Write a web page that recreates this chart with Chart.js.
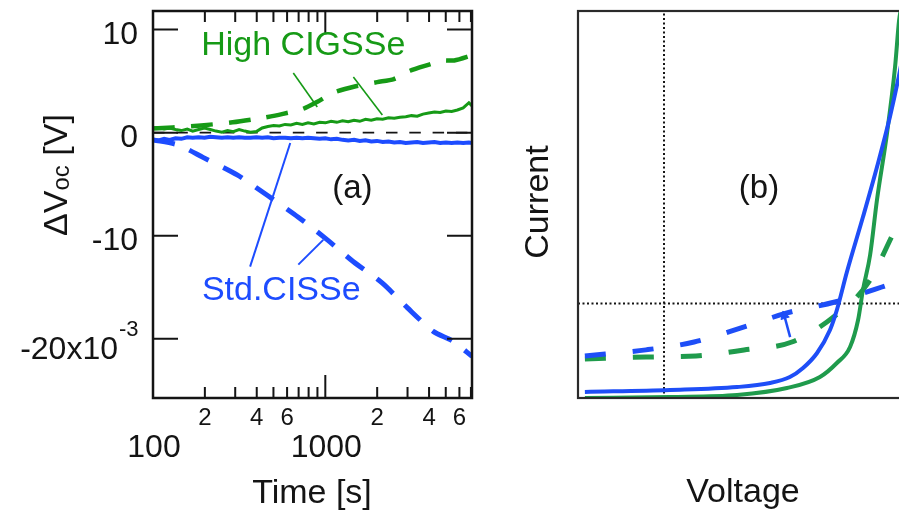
<!DOCTYPE html>
<html>
<head>
<meta charset="utf-8">
<script src="https://cdn.jsdelivr.net/npm/chart.js@4.4.1/dist/chart.umd.min.js"></script>
<style>
  html, body { margin: 0; padding: 0; background: #fff; }
  body { width: 899px; height: 511px; overflow: hidden; position: relative; }
  #wrapA { position: absolute; left: 0; top: 0; width: 500px; height: 511px; }
  #wrapB { position: absolute; left: 500px; top: 0; width: 440px; height: 511px; }
</style>
</head>
<body>
<div id="wrapA"><canvas id="chartA" width="500" height="511"></canvas></div>
<div id="wrapB"><canvas id="chartB" width="440" height="511"></canvas></div>
<script>
// ---- panel (a): delta Voc vs time (values in 1e-3 V) ----
const timeMin = 100, timeMax = 7100;
const voltMin = -25.74, voltMax = 11.8;

const timeHighDash = [100, 130, 190, 290, 420, 560, 740, 900, 1120, 1500, 2000, 2500, 3100, 4000, 4800, 5600, 7100];
const highDash = [0.4, 0.5, 0.7, 1.0, 1.4, 1.8, 2.3, 3.0, 3.9, 4.5, 4.9, 5.2, 6.0, 6.6, 7.0, 7.0, 7.5];

const timeStdDash = [100, 140, 195, 308, 467, 697, 1028, 1450, 2144, 3000, 4250, 5470, 7100];
const stdDash = [-0.7, -1.2, -2.4, -4.1, -6.15, -8.2, -10.4, -12.5, -14.6, -17.0, -19.3, -20.2, -21.7];

const timeSolid = [100, 108, 116, 125, 135, 146, 158, 170, 184, 199, 215, 232, 251, 271, 292, 316, 341, 368, 398, 430,
  464, 501, 541, 584, 631, 681, 736, 794, 858, 926, 1000, 1080, 1166, 1259, 1359, 1468, 1585, 1711, 1848, 1995,
  2154, 2326, 2512, 2712, 2929, 3162, 3415, 3687, 3981, 4299, 4642, 5012, 5412, 5843, 6310, 6813, 7100];
const highSolid = [0.45, 0.5, 0.35, 0.45, 0.3, 0.2, 0.35, 0.15, 0.3, 0.45, 0.3, 0.15, 0.05, 0.2, 0.1, 0.3, 0.15, 0.05, 0.1, 0.45,
  0.6, 0.7, 0.65, 0.8, 0.75, 0.9, 0.8, 0.95, 0.85, 1.0, 0.95, 1.1, 1.0, 1.15, 1.05, 1.2, 1.1, 1.3, 1.2, 1.35,
  1.3, 1.45, 1.4, 1.5, 1.55, 1.65, 1.6, 1.8, 1.9, 2.0, 1.95, 2.1, 2.05, 2.2, 2.4, 2.9, 2.6];
const stdSolid = [-0.7, -0.75, -0.6, -0.7, -0.55, -0.6, -0.45, -0.5, -0.45, -0.5, -0.4, -0.45, -0.5, -0.45, -0.5, -0.45, -0.5, -0.5, -0.45, -0.5,
  -0.45, -0.55, -0.5, -0.5, -0.55, -0.5, -0.55, -0.5, -0.55, -0.6, -0.55, -0.65, -0.6, -0.7, -0.75, -0.7, -0.8, -0.75, -0.85, -0.8,
  -0.9, -0.85, -0.95, -0.9, -1.0, -0.95, -0.9, -1.0, -0.95, -0.9, -1.0, -0.95, -1.0, -0.95, -1.0, -0.95, -1.0];

// leader lines from the labels to the curves: [t1, t2], [v1, v2]
const highLeaders = [[[652, 898], [5.78, 2.48]], [[1455, 2143], [5.39, 1.71]]];
const stdLeaders = [[[626, 366], [-1.0, -13.0]], [[973, 697], [-10.4, -12.8]]];

const timeMajor = [100, 1000];
const timeMajorText = ['100', '1000'];
const timeMinor = [200, 300, 400, 500, 600, 700, 800, 900, 2000, 3000, 4000, 5000, 6000, 7000];
const timeMinorLabelAt = [200, 400, 600, 2000, 4000, 6000];
const timeMinorText = ['2', '4', '6', '2', '4', '6'];
const voltTicks = [10, 0, -10, -20];
const voltTickText = ['10', '0', '-10', '-20x10'];

// ---- panel (b): schematic current vs voltage ----
const vMin = -0.3, vMax = 0.9, iMin = -1, iMax = 3.1;
const voltBlue = [-0.276, 0.021, 0.255, 0.370, 0.439, 0.485, 0.534, 0.579, 0.603, 0.638, 0.694, 0.743, 0.788, 0.820, 0.851, 0.865];
const currBlue = [-0.936, -0.915, -0.884, -0.841, -0.778, -0.682, -0.523, -0.280, -0.068, 0.335, 0.917, 1.447, 1.977, 2.42, 2.90, 3.10];
const voltGreen = [-0.276, 0.021, 0.255, 0.429, 0.544, 0.603, 0.649, 0.677, 0.694, 0.719, 0.743, 0.778, 0.806, 0.820, 0.827];
const currGreen = [-1.0, -0.989, -0.968, -0.894, -0.777, -0.629, -0.460, -0.174, 0.144, 0.515, 1.10, 1.806, 2.506, 3.0, 3.13];
const voltBlueDash = [-0.276, -0.063, 0.105, 0.269, 0.429, 0.596, 0.760, 0.820, 0.893];
const currBlueDash = [-0.554, -0.49, -0.407, -0.258, -0.099, 0.017, 0.176, 0.24, 0.33];
const voltGreenDash = [-0.276, -0.063, 0.112, 0.279, 0.446, 0.596, 0.712, 0.792, 0.820, 0.858];
const currGreenDash = [-0.587, -0.566, -0.555, -0.492, -0.407, -0.13, 0.219, 0.695, 0.88, 1.15];
const arrowVolt = [0.440, 0.420];
const arrowCurr = [-0.355, -0.13];

const INK = '#141414';
const GREEN_A = '#169a16', BLUE_A = '#1d4cff';
const GREEN_B = '#1f9b4c', BLUE_B = '#1e4ef7';
const FONT = '"Liberation Sans", Arial, sans-serif';

function pts(xs, ys) { return xs.map((x, i) => ({ x: x, y: ys[i] })); }

function line(data, color, width, dash, extra) {
    return Object.assign({
        data: data, borderColor: color, borderWidth: width, borderDash: dash || [],
        pointRadius: 0, fill: false, tension: 0
    }, extra || {});
}

function hiddenAxis(extra, fit) {
    return Object.assign({
        ticks: { display: false }, grid: { display: false }, border: { display: false },
        afterFit: fit
    }, extra);
}

const panelA = {
    id: 'panelA',
    afterDraw(chart) {
        const { ctx, chartArea: a, scales: { x, y } } = chart;
        ctx.save();
        ctx.strokeStyle = INK;
        ctx.lineWidth = 2.5;
        ctx.strokeRect(a.left, a.top, a.right - a.left, a.bottom - a.top);

        ctx.lineWidth = 2;
        ctx.beginPath();
        timeMajor.concat(timeMinor).forEach(t => {
            const px = x.getPixelForValue(t);
            const len = timeMajor.includes(t) ? 23 : 11;
            ctx.moveTo(px, a.bottom); ctx.lineTo(px, a.bottom - len);
            ctx.moveTo(px, a.top); ctx.lineTo(px, a.top + len);
        });
        voltTicks.forEach(v => {
            const py = y.getPixelForValue(v);
            ctx.moveTo(a.left, py); ctx.lineTo(a.left + 25, py);
            ctx.moveTo(a.right, py); ctx.lineTo(a.right - 25, py);
        });
        ctx.stroke();

        ctx.fillStyle = INK;
        ctx.textAlign = 'center';
        ctx.textBaseline = 'alphabetic';
        ctx.font = '24px ' + FONT;
        timeMinorLabelAt.forEach((t, i) => ctx.fillText(timeMinorText[i], x.getPixelForValue(t), a.bottom + 27));
        ctx.font = '32px ' + FONT;
        timeMajor.forEach((t, i) => ctx.fillText(timeMajorText[i], x.getPixelForValue(t) + 1, a.bottom + 59));

        ctx.textAlign = 'right';
        voltTicks.forEach((v, i) => {
            const py = y.getPixelForValue(v);
            if (i === voltTicks.length - 1) {
                ctx.font = '32px ' + FONT;
                ctx.fillText(voltTickText[i], a.left - 35, py + 20);
                ctx.font = '22px ' + FONT;
                ctx.textAlign = 'left';
                ctx.fillText('-3', a.left - 34, py - 3);
                ctx.textAlign = 'right';
            } else {
                ctx.font = '32px ' + FONT;
                ctx.fillText(voltTickText[i], a.left - 15, py + 14);
            }
        });

        // axis titles
        ctx.textAlign = 'center';
        ctx.font = '34px ' + FONT;
        ctx.fillText('Time [s]', 312, 503);

        ctx.save();
        ctx.translate(67, 175);
        ctx.rotate(-Math.PI / 2);
        const big = '34px ' + FONT, small = '24px ' + FONT;
        ctx.font = big; const w1 = ctx.measureText('\u0394V').width, w3 = ctx.measureText(' [V]').width;
        ctx.font = small; const w2 = ctx.measureText('oc').width;
        let cx = -(w1 + w2 + w3) / 2;
        ctx.textAlign = 'left';
        ctx.font = big; ctx.fillText('\u0394V', cx, 0); cx += w1;
        ctx.font = small; ctx.fillText('oc', cx, 2); cx += w2;
        ctx.font = big; ctx.fillText(' [V]', cx, 0);
        ctx.restore();

        // in-plot labels, anchored on the data scales
        ctx.textAlign = 'center';
        ctx.font = '34px ' + FONT;
        ctx.fillStyle = GREEN_A;
        ctx.fillText('High CIGSSe', x.getPixelForValue(745), y.getPixelForValue(7.53));
        ctx.fillStyle = BLUE_A;
        ctx.fillText('Std.CISSe', x.getPixelForValue(555), y.getPixelForValue(-16.24));
        ctx.fillStyle = INK;
        ctx.font = '33px ' + FONT;
        ctx.fillText('(a)', x.getPixelForValue(1435), y.getPixelForValue(-6.34));
        ctx.restore();
    }
};

const panelB = {
    id: 'panelB',
    afterDraw(chart) {
        const { ctx, chartArea: a } = chart;
        ctx.save();
        ctx.strokeStyle = '#2a2a2a';
        ctx.lineWidth = 2.2;
        ctx.strokeRect(a.left, a.top, a.right - a.left, a.bottom - a.top);

        ctx.fillStyle = INK;
        ctx.textAlign = 'center';
        ctx.textBaseline = 'alphabetic';
        ctx.font = '33px ' + FONT;
        ctx.fillText('(b)', 259, 198);
        ctx.font = '34px ' + FONT;
        ctx.fillText('Voltage', 243, 502);
        ctx.save();
        ctx.translate(48, 202);
        ctx.rotate(-Math.PI / 2);
        ctx.fillText('Current', 0, 0);
        ctx.restore();
        ctx.restore();
    }
};

const leaderSets = highLeaders.map(l => line(pts(l[0], l[1]), GREEN_A, 1.6))
    .concat(stdLeaders.map(l => line(pts(l[0], l[1]), BLUE_A, 2)));

new Chart(document.getElementById('chartA'), {
    type: 'line',
    data: {
        datasets: [
            ...leaderSets,
            line(pts(timeSolid, stdSolid), BLUE_A, 4),
            line(pts(timeSolid, highSolid), GREEN_A, 3),
            line(pts(timeHighDash, highDash), GREEN_A, 4.5, [22, 16], { tension: 0.25 }),
            line(pts(timeStdDash, stdDash), BLUE_A, 5, [22, 16], { tension: 0.25 }),
            line(pts([timeMin, timeMax], [0, 0]), INK, 1.8, [11.5, 11.8])
        ]
    },
    options: {
        responsive: false,
        animation: false,
        events: [],
        layout: { padding: { top: 11, right: 28, left: 0, bottom: 0 } },
        plugins: { legend: { display: false }, tooltip: { enabled: false } },
        scales: {
            x: hiddenAxis({ type: 'logarithmic', min: timeMin, max: timeMax }, s => { s.height = 113; }),
            y: hiddenAxis({ type: 'linear', min: voltMin, max: voltMax }, s => { s.width = 153; })
        }
    },
    plugins: [panelA]
});

new Chart(document.getElementById('chartB'), {
    type: 'line',
    data: {
        datasets: [
            line(pts(arrowVolt, arrowCurr), BLUE_B, 2.5, [], {
                pointRadius: [0, 5], pointStyle: 'triangle', pointRotation: -17,
                pointBackgroundColor: BLUE_B, pointBorderColor: BLUE_B, pointBorderWidth: 1
            }),
            line(pts(voltBlue, currBlue), BLUE_B, 4, [], { cubicInterpolationMode: 'monotone' }),
            line(pts(voltGreen, currGreen), GREEN_B, 4, [], { cubicInterpolationMode: 'monotone' }),
            line(pts(voltBlueDash, currBlueDash), BLUE_B, 5, [21, 27], { cubicInterpolationMode: 'monotone' }),
            line(pts(voltGreenDash, currGreenDash), GREEN_B, 5, [21, 27], { cubicInterpolationMode: 'monotone' }),
            line(pts([vMin, vMax], [0, 0]), INK, 2, [2, 2.5]),
            line(pts([0, 0], [iMin, iMax]), INK, 2, [2, 2.5])
        ]
    },
    options: {
        responsive: false,
        animation: false,
        events: [],
        layout: { padding: { top: 11, right: 18, left: 0, bottom: 0 } },
        plugins: { legend: { display: false }, tooltip: { enabled: false } },
        scales: {
            x: hiddenAxis({ type: 'linear', min: vMin, max: vMax }, s => { s.height = 113; }),
            y: hiddenAxis({ type: 'linear', min: iMin, max: iMax }, s => { s.width = 78; })
        }
    },
    plugins: [panelB]
});
</script>
</body>
</html>
